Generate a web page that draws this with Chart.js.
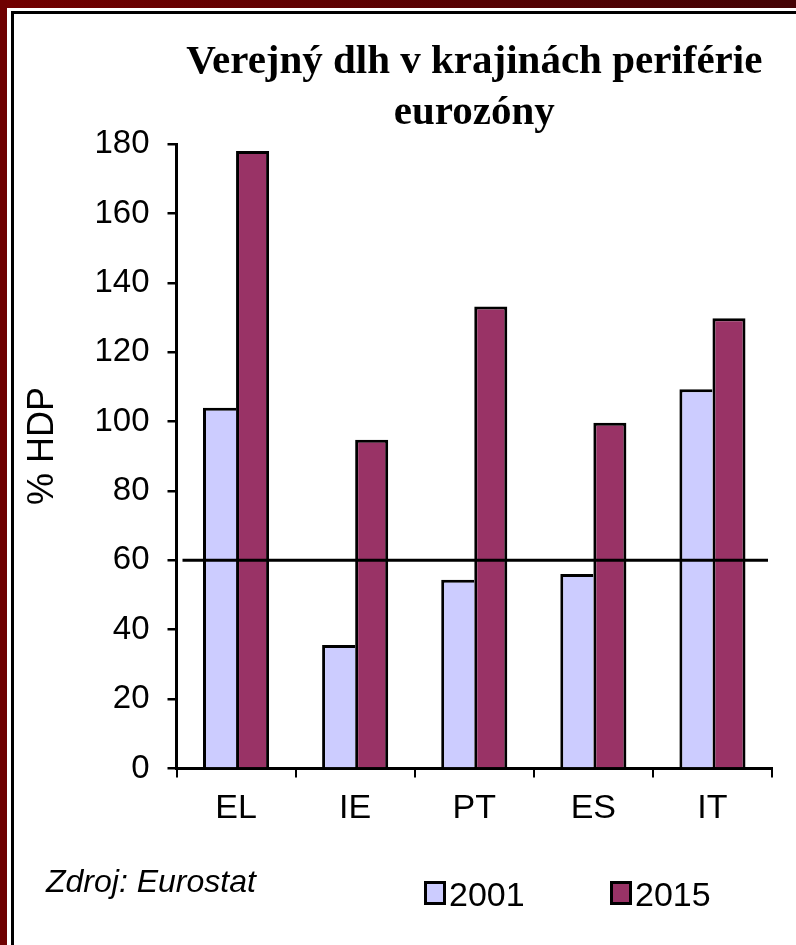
<!DOCTYPE html>
<html>
<head>
<meta charset="utf-8">
<script src="https://cdn.jsdelivr.net/npm/chart.js@4.4.1/dist/chart.umd.min.js"></script>
<style>
    body { margin: 0; background: #fff; }
    #wrap { position: relative; width: 796px; height: 945px; background: #fff; overflow: hidden; }
    .band-top { position: absolute; left: 0; top: 0; width: 796px; height: 8px; background: linear-gradient(to right, #720000, #440305); }
    .band-left { position: absolute; left: 0; top: 0; width: 7px; height: 945px; background: #6f0000; }
    .line-top { position: absolute; left: 11px; top: 11px; width: 785px; height: 3px; background: #000; }
    .line-left { position: absolute; left: 11px; top: 11px; width: 3px; height: 934px; background: #000; }
    canvas { position: absolute; left: 0; top: 0; }
</style>
</head>
<body>
<div id="wrap">
    <div class="band-top"></div>
    <div class="band-left"></div>
    <div class="line-top"></div>
    <div class="line-left"></div>
    <canvas id="debtChart" width="796" height="945"></canvas>
</div>
<script>
// =======================
// DATA
// =======================
const countries = ["EL", "IE", "PT", "ES", "IT"];
const debt2001 = [104, 35.6, 54.4, 56.1, 109.3];
const debt2015 = [178, 94.8, 133.2, 99.7, 129.8];
const seriesNames = ["2001", "2015"];
const yMin = 0;
const yMax = 180;
const yStep = 20;
const referenceLevel = 60;

const titleLines = ["Verejný dlh v krajinách periférie", "eurozóny"];
const yAxisTitle = "% HDP";
const sourceNote = "Zdroj: Eurostat";

const sans = "'Liberation Sans', Arial, sans-serif";
const serif = "'Liberation Serif', 'Times New Roman', serif";

// =======================
// PLUGINS
// =======================
// horizontal line at the 60 % level, drawn over the bars
const referenceLine = {
    id: "referenceLine",
    afterDatasetsDraw(chart) {
        const { ctx, chartArea, scales } = chart;
        const y = scales.y.getPixelForValue(referenceLevel);
        ctx.save();
        ctx.strokeStyle = "#000";
        ctx.lineWidth = 3;
        ctx.beginPath();
        ctx.moveTo(chartArea.left + 6, y);
        ctx.lineTo(chartArea.right - 4, y);
        ctx.stroke();
        ctx.restore();
    }
};

// axis title, source note and legend
const extras = {
    id: "extras",
    afterDraw(chart) {
        const { ctx } = chart;

        ctx.save();
        ctx.fillStyle = "#000";
        ctx.font = "36px " + sans;
        ctx.textAlign = "center";
        ctx.textBaseline = "alphabetic";
        ctx.translate(53, 446);
        ctx.rotate(-Math.PI / 2);
        ctx.fillText(yAxisTitle, 0, 0);
        ctx.restore();

        ctx.save();
        ctx.fillStyle = "#000";
        ctx.font = "italic 32px " + sans;
        ctx.textBaseline = "alphabetic";
        ctx.fillText(sourceNote, 46, 892);

        const legendX = [424, 610];
        chart.data.datasets.forEach((ds, i) => {
            const x = legendX[i];
            ctx.fillStyle = ds.backgroundColor;
            ctx.fillRect(x, 881, 22, 24);
            ctx.lineWidth = 3;
            ctx.strokeStyle = "#000";
            ctx.strokeRect(x + 1.5, 882.5, 19, 21);
            ctx.fillStyle = "#000";
            ctx.font = "34px " + sans;
            ctx.fillText(ds.label, x + 25, 906);
        });
        ctx.restore();
    }
};

// =======================
// CHART
// =======================
const ctx = document.getElementById("debtChart").getContext("2d");

new Chart(ctx, {
    type: "bar",
    data: {
        labels: countries,
        datasets: [{
            label: seriesNames[0],
            data: debt2001,
            backgroundColor: "#ccccff",
            borderColor: "#000",
            borderWidth: { top: 3, left: 3, right: 0, bottom: 0 }
        }, {
            label: seriesNames[1],
            data: debt2015,
            backgroundColor: "#993366",
            borderColor: "#000",
            borderWidth: { top: 3, left: 3, right: 3, bottom: 0 }
        }]
    },
    options: {
        responsive: false,
        animation: false,
        layout: {
            padding: { top: 30, right: 24, left: 0, bottom: 0 }
        },
        datasets: {
            bar: { categoryPercentage: 0.555, barPercentage: 1 }
        },
        plugins: {
            legend: { display: false },
            tooltip: { enabled: false },
            title: {
                display: true,
                text: titleLines,
                fullSize: false,
                color: "#000",
                font: { family: serif, size: 41, weight: "bold", lineHeight: 1.245 },
                padding: { top: 7, bottom: 5 }
            }
        },
        scales: {
            x: {
                grid: {
                    drawOnChartArea: false,
                    tickLength: 9,
                    color: "#000",
                    lineWidth: 2
                },
                border: { display: true, color: "#000", width: 3 },
                ticks: {
                    color: "#000",
                    font: { family: sans, size: 34 },
                    padding: 11
                },
                afterFit(scale) {
                    scale.height = 176.5;
                }
            },
            y: {
                min: yMin,
                max: yMax,
                ticks: {
                    stepSize: yStep,
                    color: "#000",
                    font: { family: sans, size: 33 },
                    padding: 18
                },
                grid: {
                    drawOnChartArea: false,
                    tickLength: 9,
                    color: "#000",
                    lineWidth: 2.5
                },
                border: { display: true, color: "#000", width: 3 },
                afterFit(scale) {
                    scale.width = 176.5;
                }
            }
        }
    },
    plugins: [referenceLine, extras]
});
</script>
</body>
</html>
